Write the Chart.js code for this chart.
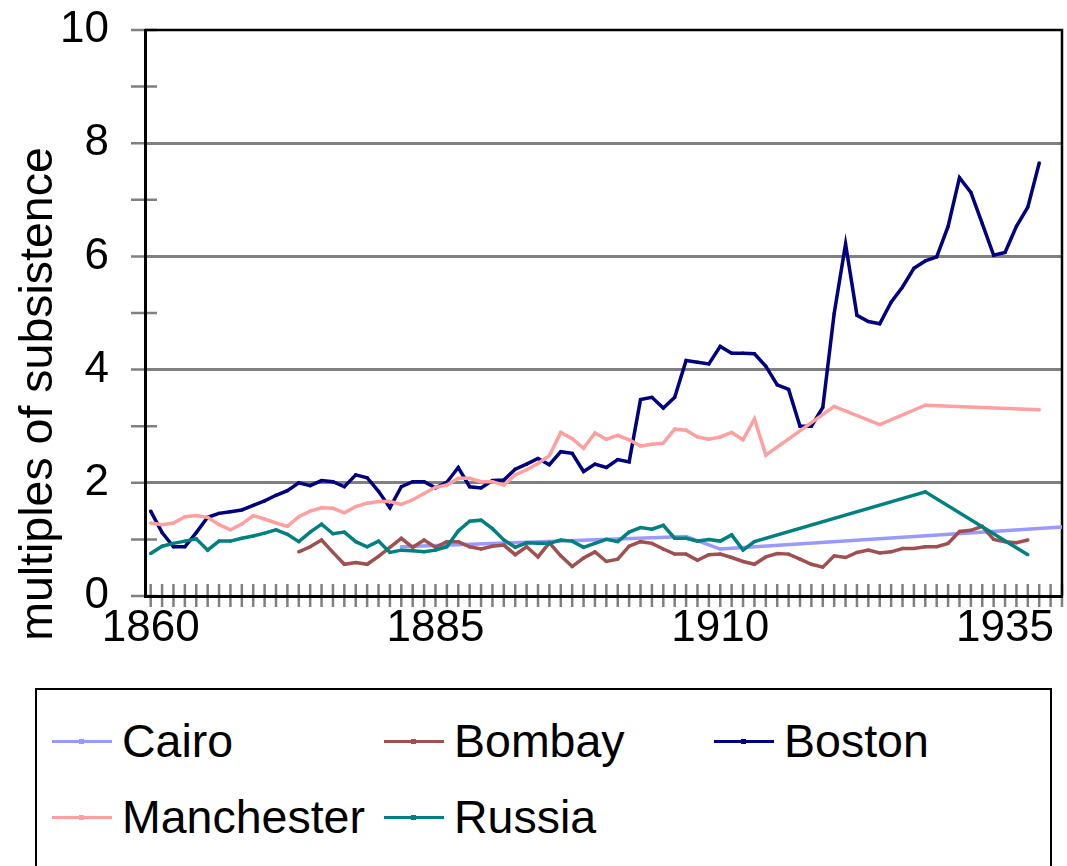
<!DOCTYPE html>
<html>
<head>
<meta charset="utf-8">
<script src="https://cdn.jsdelivr.net/npm/chart.js@4.4.0/dist/chart.umd.min.js"></script>
<style>
  body { margin: 0; background: #fff; font-family: "Liberation Sans", Arial, sans-serif; }
  #wrap { position: relative; width: 1067px; height: 866px; overflow: hidden; }
  #chart { position: absolute; left: 0; top: 0; }
  #legend { position: absolute; left: 35px; top: 688px; width: 1013px; height: 220px; border: 2px solid #000; }
  .item { position: absolute; height: 52px; display: flex; align-items: center; font-size: 46.5px; color: #000; white-space: nowrap; }
  .swatch { position: relative; width: 60px; height: 3px; margin-right: 10px; }
  .swatch span { position: absolute; left: 27px; top: -1px; width: 5px; height: 5px; }
</style>
</head>
<body>
<div id="wrap">
  <canvas id="chart" width="1067" height="660"></canvas>
  <div id="legend"></div>
</div>
<script>
const years = [
  1860, 1861, 1862, 1863, 1864, 1865, 1866, 1867, 1868, 1869,
  1870, 1871, 1872, 1873, 1874, 1875, 1876, 1877, 1878, 1879,
  1880, 1881, 1882, 1883, 1884, 1885, 1886, 1887, 1888, 1889,
  1890, 1891, 1892, 1893, 1894, 1895, 1896, 1897, 1898, 1899,
  1900, 1901, 1902, 1903, 1904, 1905, 1906, 1907, 1908, 1909,
  1910, 1911, 1912, 1913, 1914, 1915, 1916, 1917, 1918, 1919,
  1920, 1921, 1922, 1923, 1924, 1925, 1926, 1927, 1928, 1929,
  1930, 1931, 1932, 1933, 1934, 1935, 1936, 1937, 1938, 1939,
  1940
];
const yearLabels = [1860, 1885, 1910, 1935];
const yTicks = [0, 2, 4, 6, 8, 10];

const cairo = [
  null, null, null, null, null, null, null, null, null, null,
  null, null, null, null, null, null, null, null, null, null,
  null, null, 0.87, null, null, null, null, null, null, null,
  null, null, null, null, null, null, null, null, null, null,
  null, null, null, null, null, null, null, 1.05, null, null,
  0.83, null, null, null, null, null, null, null, null, null,
  null, null, null, null, null, null, null, null, null, null,
  null, null, null, null, null, null, null, null, null, null,
  1.22
];
const bombay = [
  null, null, null, null, null, null, null, null, null, null,
  null, null, null, 0.78, 0.87, 0.99, 0.77, 0.56, 0.59, 0.56,
  0.70, 0.86, 1.02, 0.86, 0.99, 0.86, 0.96, 0.96, 0.87, 0.83,
  0.88, 0.90, 0.73, 0.87, 0.69, 0.94, 0.71, 0.52, 0.67, 0.78,
  0.61, 0.65, 0.88, 0.96, 0.93, 0.83, 0.74, 0.74, 0.63, 0.73,
  0.74, 0.68, 0.61, 0.56, 0.69, 0.75, 0.74, 0.65, 0.56, 0.51,
  0.71, 0.68, 0.77, 0.81, 0.76, 0.78, 0.84, 0.84, 0.87, 0.87,
  0.93, 1.14, 1.16, 1.23, 1.00, 0.96, 0.94, 0.99, null, null,
  null
];
const boston = [
  1.50, 1.12, 0.87, 0.87, 1.12, 1.39, 1.46, 1.49, 1.52, 1.60,
  1.68, 1.78, 1.86, 2.00, 1.95, 2.04, 2.02, 1.93, 2.14, 2.09,
  1.85, 1.56, 1.93, 2.02, 2.02, 1.91, 2.01, 2.27, 1.93, 1.91,
  2.04, 2.05, 2.24, 2.33, 2.43, 2.32, 2.55, 2.52, 2.20, 2.33,
  2.27, 2.41, 2.37, 3.47, 3.51, 3.32, 3.51, 4.16, 4.13, 4.10,
  4.41, 4.29, 4.29, 4.28, 4.06, 3.73, 3.65, 3.00, 3.00, 3.33,
  4.99, 6.22, 4.96, 4.85, 4.81, 5.19, 5.46, 5.79, 5.92, 5.99,
  6.53, 7.39, 7.13, 6.58, 6.02, 6.07, 6.53, 6.87, 7.65, null,
  null
];
const manchester = [
  1.29, 1.26, 1.29, 1.40, 1.42, 1.39, 1.26, 1.17, 1.27, 1.42,
  1.36, 1.29, 1.23, 1.40, 1.50, 1.56, 1.55, 1.47, 1.58, 1.64,
  1.67, 1.67, 1.62, 1.70, 1.81, 1.92, 1.96, 2.08, 2.08, 2.02,
  2.02, 1.96, 2.14, 2.23, 2.34, 2.48, 2.89, 2.78, 2.61, 2.88,
  2.77, 2.84, 2.76, 2.65, 2.68, 2.70, 2.95, 2.93, 2.81, 2.77,
  2.81, 2.89, 2.76, 3.13, 2.49, null, null, null, null, null,
  3.35, null, null, null, 3.03, null, null, null, 3.37, null,
  null, null, null, null, null, null, null, null, 3.29, null,
  null
];
const russia = [
  0.75, 0.88, 0.93, 0.97, 1.01, 0.81, 0.97, 0.97, 1.02, 1.06,
  1.11, 1.17, 1.09, 0.96, 1.13, 1.27, 1.10, 1.13, 0.96, 0.87,
  0.97, 0.77, 0.81, 0.80, 0.78, 0.81, 0.87, 1.15, 1.32, 1.34,
  1.19, 0.99, 0.86, 0.94, 0.93, 0.93, 0.99, 0.97, 0.86, 0.93,
  1.00, 0.96, 1.13, 1.21, 1.18, 1.25, 1.02, 1.02, 0.97, 1.00,
  0.97, 1.08, 0.81, 0.96, null, null, null, null, null, null,
  null, null, null, null, null, null, null, null, 1.84, null,
  null, null, null, null, null, null, null, 0.73, null, null,
  null
];

const seriesNames = ['Cairo', 'Bombay', 'Boston', 'Manchester', 'Russia'];
const seriesValues = [cairo, bombay, boston, manchester, russia];
const seriesColors = ['#9999FF', '#A05050', '#000080', '#FF9F9F', '#008080'];

const FONT = '"Liberation Sans", Arial, sans-serif';

// tick marks across the axes, top/right frame and the y title
const frame = {
  id: 'frame',
  beforeDraw(chart) {
    const { ctx, chartArea: a, scales: { x, y } } = chart;
    ctx.save();
    ctx.strokeStyle = '#808080';
    ctx.lineWidth = 2.5;
    ctx.beginPath();
    years.forEach(yr => {
      const px = x.getPixelForValue(yr);
      ctx.moveTo(px, a.bottom - 12);
      ctx.lineTo(px, a.bottom + 11);
    });
    for (let v = 0; v <= 10; v++) {
      const py = y.getPixelForValue(v);
      ctx.moveTo(a.left - 14, py);
      ctx.lineTo(a.left + 12, py);
    }
    ctx.stroke();
    ctx.restore();
  },
  beforeDatasetsDraw(chart) {
    const { ctx, chartArea: a } = chart;
    ctx.save();
    ctx.strokeStyle = '#000';
    ctx.lineWidth = 2.5;
    ctx.beginPath();
    ctx.moveTo(a.left, a.top);
    ctx.lineTo(a.right, a.top);
    ctx.lineTo(a.right, a.bottom);
    ctx.stroke();
    ctx.restore();
  },
  afterDraw(chart) {
    const { ctx } = chart;
    ctx.save();
    ctx.translate(39, 394);
    ctx.rotate(-Math.PI / 2);
    ctx.font = '46.5px ' + FONT;
    ctx.fillStyle = '#000';
    ctx.textAlign = 'center';
    ctx.textBaseline = 'middle';
    ctx.fillText('multiples of subsistence', 0, 0);
    ctx.restore();
  }
};

const datasets = seriesNames.map((name, i) => ({
  label: name,
  data: years.map((yr, j) => ({ x: yr, y: seriesValues[i][j] })),
  borderColor: seriesColors[i],
  backgroundColor: seriesColors[i],
  borderWidth: 3.5,
  pointStyle: 'rect',
  pointRadius: 1.5,
  pointBorderWidth: 1,
  spanGaps: true,
  order: seriesNames.length - i
}));

const chart = new Chart(document.getElementById('chart'), {
  type: 'line',
  data: { datasets },
  options: {
    responsive: false,
    animation: false,
    devicePixelRatio: 1,
    layout: { padding: { top: 30, right: 4, left: 0, bottom: 0 } },
    plugins: { legend: { display: false }, tooltip: { enabled: false } },
    scales: {
      x: {
        type: 'linear',
        min: 1859.5,
        max: 1940,
        afterBuildTicks: scale => { scale.ticks = yearLabels.map(v => ({ value: v })); },
        afterFit: scale => { scale.height = 64; },
        grid: { display: false, drawTicks: false },
        border: { color: '#000', width: 3 },
        ticks: {
          autoSkip: false,
          maxRotation: 0,
          padding: 6,
          color: '#000',
          font: { family: FONT, size: 44 },
          callback: v => String(v)
        }
      },
      y: {
        min: 0,
        max: 10,
        afterFit: scale => { scale.width = 145; },
        grid: {
          drawTicks: true,
          tickLength: 36,
          tickColor: 'rgba(0,0,0,0)',
          lineWidth: 3,
          color: c => (c.tick.value > 0 && c.tick.value < 10 && c.tick.value % 2 === 0) ? '#808080' : 'rgba(0,0,0,0)'
        },
        border: { color: '#000', width: 3 },
        ticks: {
          stepSize: 1,
          padding: 0,
          color: '#000',
          font: { family: FONT, size: 44 },
          callback: v => yTicks.includes(v) ? String(v) : ''
        }
      }
    }
  },
  plugins: [frame]
});

// legend laid out as in the original: three columns, two rows
const legend = document.getElementById('legend');
const colLeft = [15, 347, 677];
const rowTop = [25, 101];
chart.data.datasets.forEach((ds, i) => {
  const item = document.createElement('div');
  item.className = 'item';
  item.style.left = colLeft[i % 3] + 'px';
  item.style.top = rowTop[Math.floor(i / 3)] + 'px';
  const sw = document.createElement('div');
  sw.className = 'swatch';
  sw.style.background = ds.borderColor;
  const mk = document.createElement('span');
  mk.style.background = ds.borderColor;
  sw.appendChild(mk);
  const txt = document.createElement('span');
  txt.textContent = ds.label;
  item.appendChild(sw);
  item.appendChild(txt);
  legend.appendChild(item);
});
</script>
</body>
</html>
